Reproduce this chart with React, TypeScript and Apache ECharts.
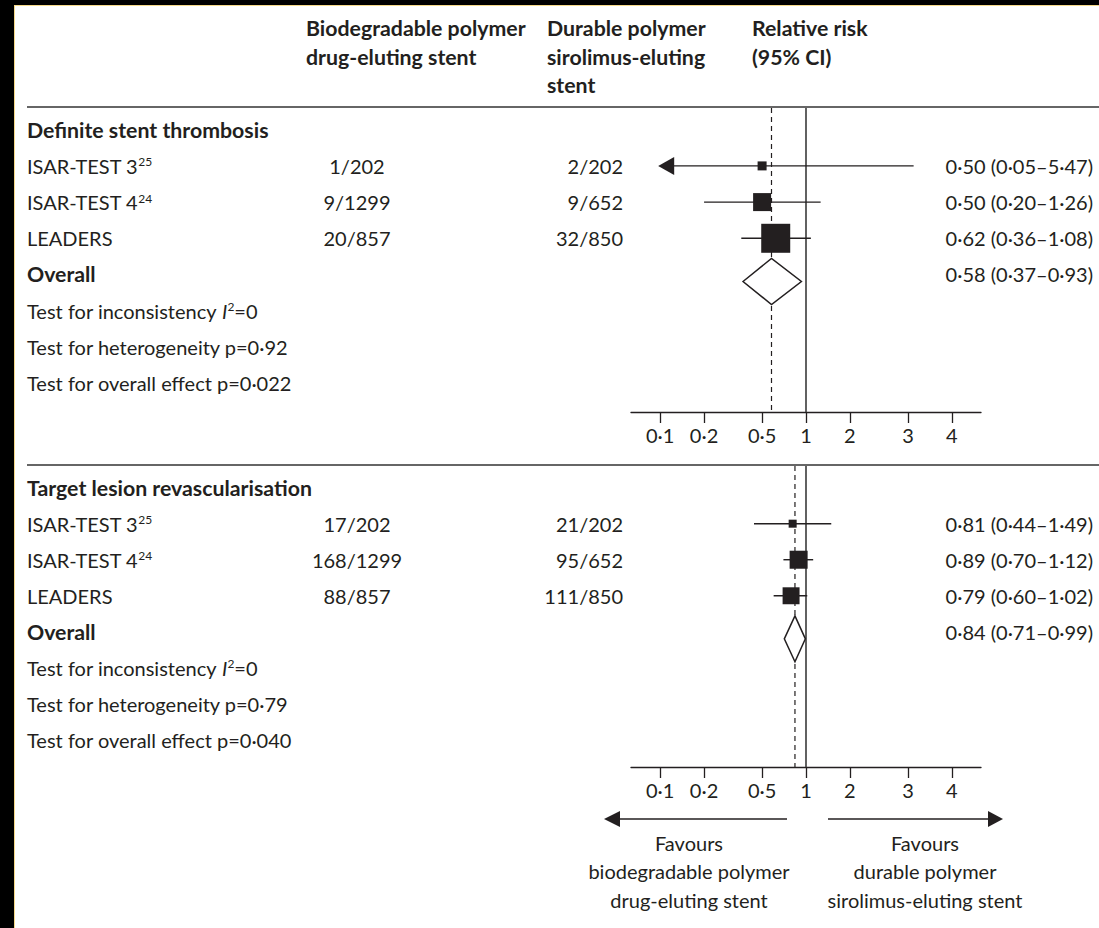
import React, { useEffect, useRef } from "react";
import * as echarts from "echarts";

// ---------- data ----------
const tickValues = [0.1, 0.2, 0.5, 1, 2, 5, 10];
const tickLabels = ["0·1", "0·2", "0·5", "1", "2", "3", "4"];

const headerBio = ["Biodegradable polymer", "drug-eluting stent"];
const headerDur = ["Durable polymer", "sirolimus-eluting", "stent"];
const headerRR = ["Relative risk", "(95% CI)"];

const studies = ["ISAR-TEST 3", "ISAR-TEST 4", "LEADERS"];
const studyRefs = ["25", "24", ""];

// Panel 1: definite stent thrombosis
const stTitle = "Definite stent thrombosis";
const stBio = ["1/202", "9/1299", "20/857"];
const stDur = ["2/202", "9/652", "32/850"];
const stRR = [0.5, 0.5, 0.62];
const stLow = [0.05, 0.2, 0.36];
const stHigh = [5.47, 1.26, 1.08];
const stWeight = [6.5, 26, 67.5];
const stPooled = [0.58, 0.37, 0.93];
const stI2 = "0";
const stHetP = "0·92";
const stEffP = "0·022";

// Panel 2: target lesion revascularisation
const tlrTitle = "Target lesion revascularisation";
const tlrBio = ["17/202", "168/1299", "88/857"];
const tlrDur = ["21/202", "95/652", "111/850"];
const tlrRR = [0.81, 0.89, 0.79];
const tlrLow = [0.44, 0.7, 0.6];
const tlrHigh = [1.49, 1.12, 1.02];
const tlrWeight = [9.5, 48, 42.5];
const tlrPooled = [0.84, 0.71, 0.99];
const tlrI2 = "0";
const tlrHetP = "0·79";
const tlrEffP = "0·040";

const favoursLeft = ["Favours", "biodegradable polymer", "drug-eluting stent"];
const favoursRight = ["Favours", "durable polymer", "sirolimus-eluting stent"];

// ---------- style / layout ----------
const FONT = "Lato, 'Open Sans', sans-serif";
const INK = "#231f20";
const FS = 20;
const FSB = 21.3;
const CLIP_MIN = 0.1;

const fmt = (v: number) => v.toFixed(2).replace(".", "·");
const lg = (v: number) => Math.log10(v);
const tickPos = tickValues.map(lg);

type Panel = {
  title: string;
  bio: string[];
  dur: string[];
  rr: number[];
  low: number[];
  high: number[];
  weight: number[];
  pooled: number[];
  i2: string;
  het: string;
  eff: string;
  sqScale: number;
};

const panels: Panel[] = [
  { title: stTitle, bio: stBio, dur: stDur, rr: stRR, low: stLow, high: stHigh, weight: stWeight, pooled: stPooled, i2: stI2, het: stHetP, eff: stEffP, sqScale: 3.53 },
  { title: tlrTitle, bio: tlrBio, dur: tlrDur, rr: tlrRR, low: tlrLow, high: tlrHigh, weight: tlrWeight, pooled: tlrPooled, i2: tlrI2, het: tlrHetP, eff: tlrEffP, sqScale: 2.6 },
];

const COL_NAME = 27;
const COL_BIO = 357;
const COL_DUR = 623;
const COL_CI = 1093;

const richStyles = {
  sup: { fontSize: 12, fontFamily: FONT, fill: INK, verticalAlign: "top" },
  it: { fontSize: FS, fontFamily: FONT, fill: INK, fontStyle: "italic" },
  n: { fontSize: FS, fontFamily: FONT, fill: INK },
};

function txt(text: string, x: number, y: number, align: string, bold = false) {
  return {
    type: "text",
    style: {
      text,
      x,
      y,
      align,
      verticalAlign: "middle",
      fill: INK,
      fontSize: bold ? FSB : FS,
      fontFamily: FONT,
      fontWeight: bold ? "bold" : "normal",
      rich: richStyles,
    },
  };
}

function makeRows(p: Panel) {
  const rows: any[] = [{ kind: "title" }];
  studies.forEach((s, j) => rows.push({ kind: "study", j }));
  rows.push({ kind: "overall" });
  rows.push({ kind: "test", text: `{n|Test for inconsistency }{it|I}{sup|2}{n|=${p.i2}}` });
  rows.push({ kind: "test", text: `Test for heterogeneity p=${p.het}` });
  rows.push({ kind: "test", text: `Test for overall effect p=${p.eff}` });
  return rows;
}

function makeRender(p: Panel, rows: any[]) {
  return (params: any, api: any) => {
    const i = params.dataIndex;
    const row = rows[i];
    const y = api.coord([0, i])[1];
    const ch: any[] = [];
    if (row.kind === "title") {
      ch.push(txt(p.title, COL_NAME, y, "left", true));
    } else if (row.kind === "study") {
      const j = row.j;
      const name = studyRefs[j] ? `{n|${studies[j]}}{sup|${studyRefs[j]}}` : studies[j];
      ch.push(txt(name, COL_NAME, y, "left"));
      ch.push(txt(p.bio[j], COL_BIO, y, "center"));
      ch.push(txt(p.dur[j], COL_DUR, y, "right"));
      ch.push(txt(`${fmt(p.rr[j])} (${fmt(p.low[j])}–${fmt(p.high[j])})`, COL_CI, y, "right"));
      const clipped = p.low[j] < CLIP_MIN;
      const x0 = api.coord([lg(Math.max(p.low[j], CLIP_MIN)), i])[0];
      const x1 = api.coord([lg(p.high[j]), i])[0];
      const xc = api.coord([lg(p.rr[j]), i])[0];
      ch.push({
        type: "line",
        shape: { x1: clipped ? x0 + 10 : x0, y1: y, x2: x1, y2: y },
        style: { stroke: INK, lineWidth: 1.4 },
      });
      if (clipped) {
        ch.push({
          type: "polygon",
          shape: { points: [[x0 - 2, y], [x0 + 14, y - 9], [x0 + 14, y + 9]] },
          style: { fill: INK },
        });
      }
      const s = p.sqScale * Math.sqrt(p.weight[j]);
      ch.push({
        type: "rect",
        shape: { x: xc - s / 2, y: y - s / 2, width: s, height: s },
        style: { fill: INK },
      });
    } else if (row.kind === "overall") {
      ch.push(txt("Overall", COL_NAME, y, "left", true));
      ch.push(txt(`${fmt(p.pooled[0])} (${fmt(p.pooled[1])}–${fmt(p.pooled[2])})`, COL_CI, y, "right"));
      const yd = y + 7;
      const xl = api.coord([lg(p.pooled[1]), i])[0];
      const xc = api.coord([lg(p.pooled[0]), i])[0];
      const xr = api.coord([lg(p.pooled[2]), i])[0];
      ch.push({
        type: "polygon",
        shape: { points: [[xl, yd], [xc, yd - 23], [xr, yd], [xc, yd + 23]] },
        style: { fill: "#fff", stroke: INK, lineWidth: 1.5 },
        z2: 10,
      });
    } else {
      ch.push(txt(row.text, COL_NAME, y, "left"));
    }
    return { type: "group", children: ch };
  };
}

function makeRefRender(yMin: number, yMax: number) {
  return (params: any, api: any) => {
    const x = api.value(0);
    const dashed = api.value(1) === 1;
    const a = api.coord([x, yMin]);
    const b = api.coord([x, yMax]);
    return {
      type: "line",
      shape: { x1: a[0], y1: a[1], x2: b[0], y2: b[1] },
      style: { stroke: dashed ? INK : "#3a3a3a", lineWidth: dashed ? 1.2 : 1.6, lineDash: dashed ? [5, 4] : null },
    };
  };
}

const yRanges = [
  [-0.6, 7.8],
  [-0.6, 7.75],
];

export default function App() {
  const ref = useRef<HTMLDivElement>(null);
  useEffect(() => {
    if (!ref.current) return;
    const chart = echarts.init(ref.current, undefined, { renderer: "svg" });
    const labelFmt = (v: number) => {
      const k = tickPos.findIndex((t) => Math.abs(t - v) < 1e-6);
      return k >= 0 ? tickLabels[k] : "";
    };
    const series: any[] = [];
    panels.forEach((p, gi) => {
      const rows = makeRows(p);
      series.push({
        type: "custom",
        xAxisIndex: gi,
        yAxisIndex: gi,
        clip: false,
        renderItem: makeRender(p, rows),
        data: rows.map((_, i) => [0, i]),
        encode: { x: 0, y: 1 },
        z: 5,
      });
      series.push({
        type: "custom",
        xAxisIndex: gi,
        yAxisIndex: gi,
        clip: false,
        renderItem: makeRefRender(yRanges[gi][0], yRanges[gi][1]),
        data: [
          [0, 0],
          [lg(p.pooled[0]), 1],
        ],
        z: 2,
      });
    });

    const g: any[] = [];
    // frame
    g.push({ type: "rect", shape: { x: 0, y: 0, width: 1099, height: 5 }, style: { fill: "#000" } });
    g.push({ type: "rect", shape: { x: 0, y: 0, width: 14, height: 928 }, style: { fill: "#000" } });
    g.push({ type: "rect", shape: { x: 14, y: 5, width: 1085, height: 1 }, style: { fill: "#f5d98a" } });
    g.push({ type: "rect", shape: { x: 14, y: 5, width: 1, height: 923 }, style: { fill: "#f5d98a" } });
    // headers
    const hdr = (lines: string[], x: number) =>
      lines.forEach((t, k) =>
        g.push({
          type: "text",
          style: { text: t, x, y: 28 + k * 28.7, align: "left", verticalAlign: "middle", fill: INK, fontSize: FSB, fontFamily: FONT, fontWeight: "bold" },
        })
      );
    hdr(headerBio, 306);
    hdr(headerDur, 547);
    hdr(headerRR, 752);
    // rules
    [107, 465].forEach((y) =>
      g.push({ type: "line", shape: { x1: 27, y1: y, x2: 1099, y2: y }, style: { stroke: "#333", lineWidth: 1.5 } })
    );
    // favours arrows
    const ay = 819;
    g.push({ type: "line", shape: { x1: 787, y1: ay, x2: 618, y2: ay }, style: { stroke: INK, lineWidth: 1.4 } });
    g.push({ type: "polygon", shape: { points: [[604, ay], [620, ay - 8], [620, ay + 8]] }, style: { fill: INK } });
    g.push({ type: "line", shape: { x1: 828, y1: ay, x2: 990, y2: ay }, style: { stroke: INK, lineWidth: 1.4 } });
    g.push({ type: "polygon", shape: { points: [[1003, ay], [988, ay - 8], [988, ay + 8]] }, style: { fill: INK } });
    const fav = (lines: string[], x: number) =>
      lines.forEach((t, k) =>
        g.push({
          type: "text",
          style: { text: t, x, y: 843 + k * 28.3, align: "center", verticalAlign: "middle", fill: INK, fontSize: FS, fontFamily: FONT },
        })
      );
    fav(favoursLeft, 689);
    fav(favoursRight, 925);

    const option: any = {
      animation: false,
      backgroundColor: "#fff",
      grid: [
        { left: 631, width: 350, top: 108, height: 304 },
        { left: 631, width: 350, top: 466, height: 301 },
      ],
      xAxis: [0, 1].map((gi) => ({
        type: "value",
        gridIndex: gi,
        position: "bottom",
        min: -1.2,
        max: 1.2,
        axisLine: { show: true, onZero: false, lineStyle: { color: INK, width: 1.3 } },
        axisTick: { show: true, length: 11, customValues: tickPos, lineStyle: { color: INK, width: 1.3 } },
        axisLabel: { customValues: tickPos, formatter: labelFmt, fontFamily: FONT, fontSize: 20, color: INK, margin: 13 },
        splitLine: { show: false },
      })),
      yAxis: [0, 1].map((gi) => ({
        type: "value",
        gridIndex: gi,
        min: yRanges[gi][0],
        max: yRanges[gi][1],
        inverse: true,
        show: false,
      })),
      series,
      graphic: g,
    };
    chart.setOption(option);
    return () => chart.dispose();
  }, []);
  return <div ref={ref} style={{ position: "fixed", left: 0, top: 0, width: 1099, height: 928 }} />;
}
